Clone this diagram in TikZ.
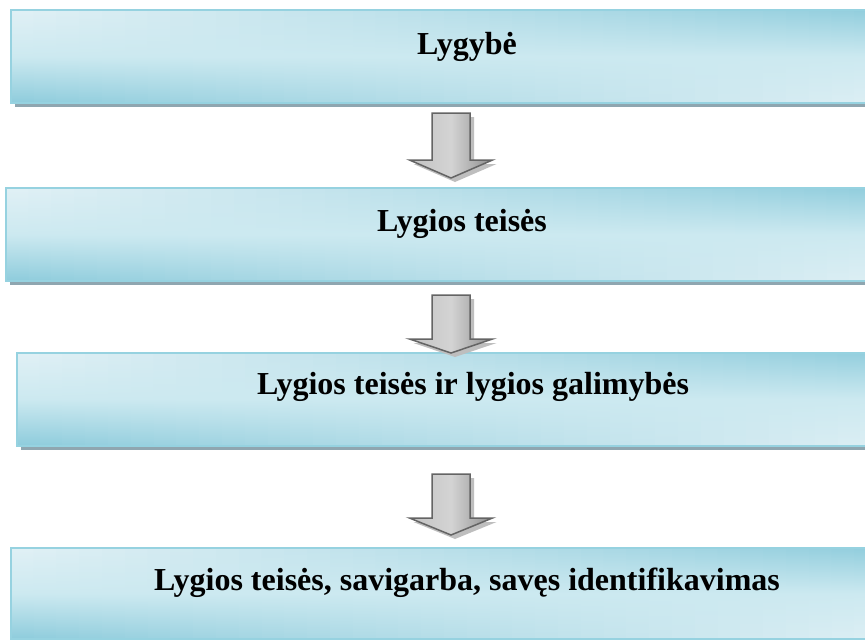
\documentclass[tikz,border=0pt]{standalone}
\usepackage{fontspec}
\setmainfont{Liberation Serif}
\usetikzlibrary{calc,shadows}
\definecolor{boxdark}{RGB}{142,204,220}
\definecolor{boxmid}{RGB}{204,233,240}
\definecolor{boxlight}{RGB}{224,240,245}
\definecolor{boxedge}{RGB}{150,210,224}
\definecolor{boxshadow}{RGB}{143,166,176}
\definecolor{arrowedge}{RGB}{100,100,100}
\definecolor{arrowshadow}{RGB}{190,190,190}
\tikzset{
  panel/.style={rectangle, draw=boxedge, line width=2pt, inner sep=0pt,
    minimum width=912pt, minimum height=93pt, fill=boxmid,
    drop shadow={shadow xshift=4pt, shadow yshift=-4pt, fill=boxshadow, opacity=1},
    path picture={
      \foreach \i in {0,...,39}{
        \pgfmathsetmacro\mixv{\i*100/39}
        \colorlet{stripT}{boxdark!\mixv!boxlight}
        \colorlet{stripB}{boxlight!\mixv!boxdark}
        \fill[top color=stripT, bottom color=stripB, middle color=boxmid]
          ($(path picture bounding box.south west)!{\i/40}!(path picture bounding box.south east)$)
          rectangle
          ($(path picture bounding box.north west)!{(\i+1)/40+0.002}!(path picture bounding box.north east)$);
      }}},
  lbl/.style={font=\bfseries\fontsize{32}{36}\selectfont, text=black, inner sep=0pt},
  arrowbody/.style={draw=arrowedge, line width=1.5pt, line join=miter,
    left color=black!24, right color=black!45, middle color=black!17},
  arrowshade/.style={fill=arrowshadow}
}
\newcommand\blockdown[5]{%
  % #1 name, #2 centre x, #3 top y, #4 head y, #5 tip y
  \coordinate (#1top) at (#2,#3);
  \coordinate (#1tip) at (#2,#5);
  \fill[arrowshade] (#2-15,#3+4) -- (#2+23,#3+4) -- (#2+23,#4+4) -- (#2+45.5,#4+4) -- (#2+4,#5+4) -- (#2-37.5,#4+4) -- (#2-15,#4+4) -- cycle;
  \path[arrowbody] (#2-19,#3) -- (#2+19,#3) -- (#2+19,#4) -- (#2+41.5,#4) -- (#1tip) -- (#2-41.5,#4) -- (#2-19,#4) -- cycle;
}
\begin{document}
\begin{tikzpicture}[x=1pt,y=-1pt]
\clip (0,0) rectangle (865,640);
\fill[white] (0,0) rectangle (865,640);
\node[panel] (b1) at (467,56.5) {};
\node[panel] (b2) at (462,234.5) {};
\node[panel] (b3) at (473,399) {};
\node[panel, minimum height=91pt] (b4) at (467,593.5) {};
\node[lbl] (t1) at ([yshift=10pt]b1.center) {Lygybė};
\node[lbl] (t2) at ([yshift=11pt]b2.center) {Lygios teisės};
\node[lbl] (t3) at ([yshift=12pt]b3.center) {Lygios teisės ir lygios galimybės};
\node[lbl] (t4) at ([yshift=11pt]b4.center) {Lygios teisės, savigarba, savęs identifikavimas};
\blockdown{a1}{451}{113}{160}{178}
\blockdown{a2}{451}{295}{339}{353}
\blockdown{a3}{451}{474}{518}{535}
\end{tikzpicture}
\end{document}
